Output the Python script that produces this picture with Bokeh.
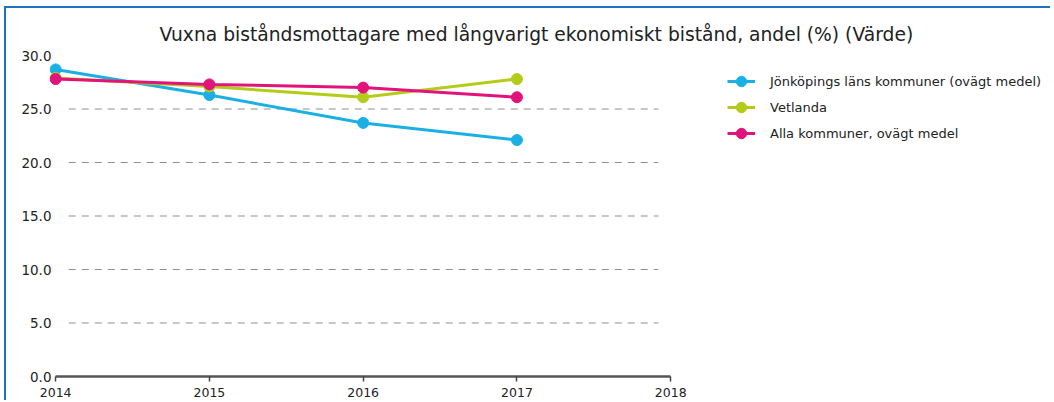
from bokeh.plotting import figure
from bokeh.models import Range1d, Legend, LegendItem, FixedTicker, PrintfTickFormatter, ColumnDataSource
from bokeh.embed import file_html
from bokeh.resources import INLINE

years = [2014, 2015, 2016, 2017]
jonkoping = [28.7, 26.3, 23.7, 22.1]
vetlanda = [27.9, 27.1, 26.1, 27.8]
alla = [27.8, 27.3, 27.0, 26.1]
series_names = ["Jönköpings läns kommuner (ovägt medel)", "Vetlanda", "Alla kommuner, ovägt medel"]
series_colors = ["#1ab0e3", "#b5cb1a", "#e2137a"]
y_ticks = [0, 5, 10, 15, 20, 25, 30]
x_ticks = [2014, 2015, 2016, 2017, 2018]
title_text = "Vuxna biståndsmottagare med långvarigt ekonomiskt bistånd, andel (%) (Värde)"

FONT = "DejaVu Sans"

p = figure(width=1046, height=394, output_backend="svg", toolbar_location=None,
           x_range=Range1d(2013.96, 2020.47), y_range=Range1d(0, 30),
           min_border_left=43, min_border_right=2, min_border_bottom=26, min_border_top=47,
           styles={"border-top": "2px solid #1f72c0", "border-left": "2px solid #1f72c0",
                   "margin-left": "4px", "margin-top": "6px"})
p.outline_line_color = None
p.background_fill_color = None
p.border_fill_color = "white"

p.title.text = title_text
p.title.text_font = FONT
p.title.text_font_size = "18.7px"
p.title.text_font_style = "normal"
p.title.text_color = "#222222"
p.title.align = "left"
p.title.offset = 110
p.title.standoff = 21

p.xgrid.visible = False
p.ygrid.visible = False

grid_vals = [v for v in y_ticks if 0 < v < 30]
p.segment(x0=[2014.085] * len(grid_vals), x1=[2017.92] * len(grid_vals), y0=grid_vals, y1=grid_vals,
          line_color="#8f8f8f", line_width=1.2, line_dash="7 6")

xa = p.xaxis[0]
xa.ticker = FixedTicker(ticks=x_ticks)
xa.bounds = (2014, 2018)
xa.axis_line_color = "#555555"
xa.axis_line_width = 2.5
xa.major_tick_line_color = "#444444"
xa.major_tick_line_width = 1.5
xa.major_tick_out = 5
xa.major_tick_in = 0
xa.minor_tick_line_color = None
xa.major_label_text_font = FONT
xa.major_label_text_font_size = "12.5px"
xa.major_label_text_color = "#222222"
xa.major_label_standoff = 6

ya = p.yaxis[0]
ya.ticker = FixedTicker(ticks=y_ticks)
ya.formatter = PrintfTickFormatter(format="%.1f")
ya.axis_line_color = None
ya.major_tick_line_color = None
ya.minor_tick_line_color = None
ya.major_tick_out = 0
ya.major_tick_in = 0
ya.major_label_text_font = FONT
ya.major_label_text_font_size = "13.5px"
ya.major_label_text_color = "#222222"
ya.major_label_standoff = -2

items = []
for name, vals, col in zip(series_names, [jonkoping, vetlanda, alla], series_colors):
    src = ColumnDataSource(dict(x=years, y=vals))
    l = p.line("x", "y", source=src, line_color=col, line_width=3)
    s = p.scatter("x", "y", source=src, size=11, fill_color=col, line_color=col)
    items.append(LegendItem(label=name, renderers=[l, s]))

legend = Legend(items=items, location=(678, 230))
legend.padding = 0
legend.margin = 0
legend.border_line_color = None
legend.background_fill_alpha = 0
legend.label_text_font = FONT
legend.label_text_font_size = "13px"
legend.label_text_color = "#222222"
legend.glyph_width = 28
legend.glyph_height = 26
legend.label_height = 26
legend.spacing = 0
legend.label_standoff = 15
p.add_layout(legend, "center")

open("out.html", "w").write(file_html(p, INLINE))
